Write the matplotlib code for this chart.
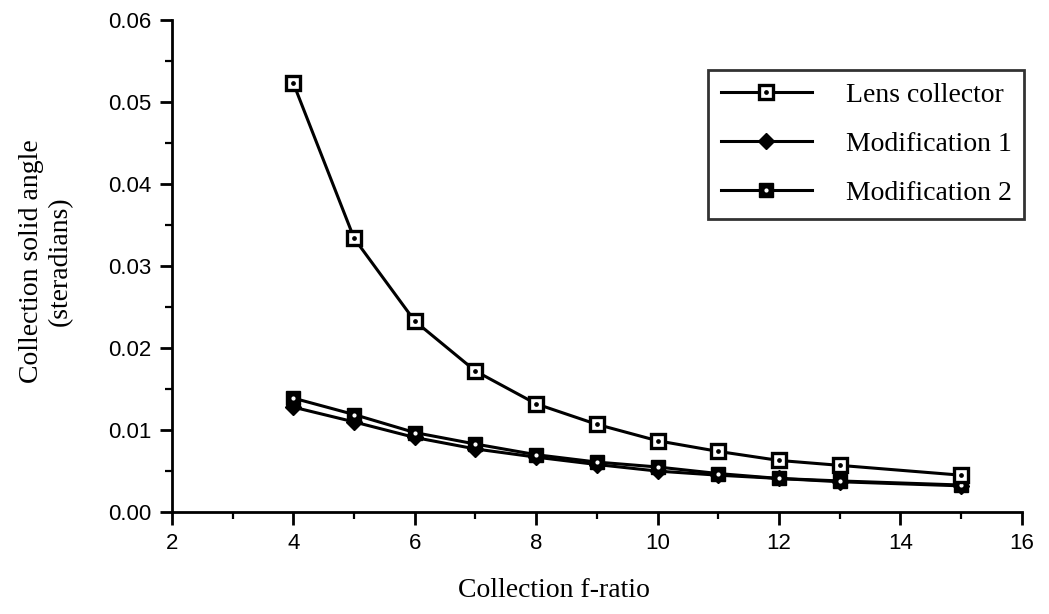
import numpy as np
import matplotlib
matplotlib.use("Agg")
import matplotlib.pyplot as plt
from matplotlib.legend_handler import HandlerTuple
from matplotlib.ticker import MultipleLocator

f_ratio = [4, 5, 6, 7, 8, 9, 10, 11, 12, 13, 15]
lens = [0.0523, 0.0334, 0.0233, 0.0172, 0.0132, 0.0107, 0.0087, 0.0074, 0.0063, 0.0057, 0.0045]
mod1 = [0.0128, 0.0110, 0.0091, 0.0077, 0.0067, 0.0058, 0.0050, 0.0045, 0.0041, 0.0037, 0.0032]
mod2 = [0.0139, 0.0119, 0.0097, 0.0083, 0.0070, 0.0061, 0.0055, 0.0047, 0.0041, 0.0038, 0.0033]

serif = {'family': 'Liberation Serif', 'size': 20}

fig = plt.figure(figsize=(10.49, 6.14), dpi=100)
ax = fig.add_axes([0.164, 0.166, 0.810, 0.801])

# Modification 1: filled diamonds
l1, = ax.plot(f_ratio, mod1, color='black', lw=2.2, marker='D', ms=8.5,
              mfc='black', mec='black', zorder=3)
# Modification 2: filled squares with a white dot
l2, = ax.plot(f_ratio, mod2, color='black', lw=2.2, marker='s', ms=9.5,
              mfc='black', mec='black', zorder=4)
d2, = ax.plot(f_ratio, mod2, ls='none', marker='o', ms=2, mfc='white', mec='white', zorder=5)
# Lens collector: open squares with a black dot
l0, = ax.plot(f_ratio, lens, color='black', lw=2.2, marker='s', ms=10,
              mfc='white', mec='black', mew=2.4, zorder=6)
d0, = ax.plot(f_ratio, lens, ls='none', marker='o', ms=2.4, mfc='black', mec='black', zorder=7)

ax.set_xlim(2, 16)
ax.set_ylim(0, 0.06)
ax.xaxis.set_major_locator(MultipleLocator(2))
ax.xaxis.set_minor_locator(MultipleLocator(1))
ax.yaxis.set_major_locator(MultipleLocator(0.01))
ax.yaxis.set_minor_locator(MultipleLocator(0.005))
ax.yaxis.set_major_formatter(matplotlib.ticker.FormatStrFormatter('%.2f'))

for s in ['top', 'right']:
    ax.spines[s].set_visible(False)
for s in ['left', 'bottom']:
    ax.spines[s].set_linewidth(2.0)

ax.tick_params(which='major', direction='out', length=9, width=2.0, labelsize=16, pad=6)
ax.tick_params(which='minor', direction='out', length=5, width=1.6)
for lab in ax.get_xticklabels() + ax.get_yticklabels():
    lab.set_fontfamily('Liberation Sans')

ax.set_xlabel('Collection f-ratio', fontdict=serif)
ax.xaxis.set_label_coords(0.45, -0.134)
ax.set_ylabel('Collection solid angle\n(steradians)', fontdict=serif,
              linespacing=1.2)
ax.yaxis.set_label_coords(-0.117, 0.51)

leg = fig.legend([(l0, d0), l1, (l2, d2)],
                 ['Lens collector', 'Modification 1', 'Modification 2'],
                 handler_map={tuple: HandlerTuple(ndivide=1)},
                 loc='upper left', bbox_to_anchor=(0.675, 0.886),
                 prop={'family': 'Liberation Serif', 'size': 20},
                 frameon=True, fancybox=False, shadow=False,
                 handlelength=3.3, handletextpad=1.2, labelspacing=0.85,
                 borderpad=0.45, borderaxespad=0)
leg.get_frame().set_edgecolor('black')
leg.get_frame().set_linewidth(2.0)

fig.savefig('out.png', dpi=100)
